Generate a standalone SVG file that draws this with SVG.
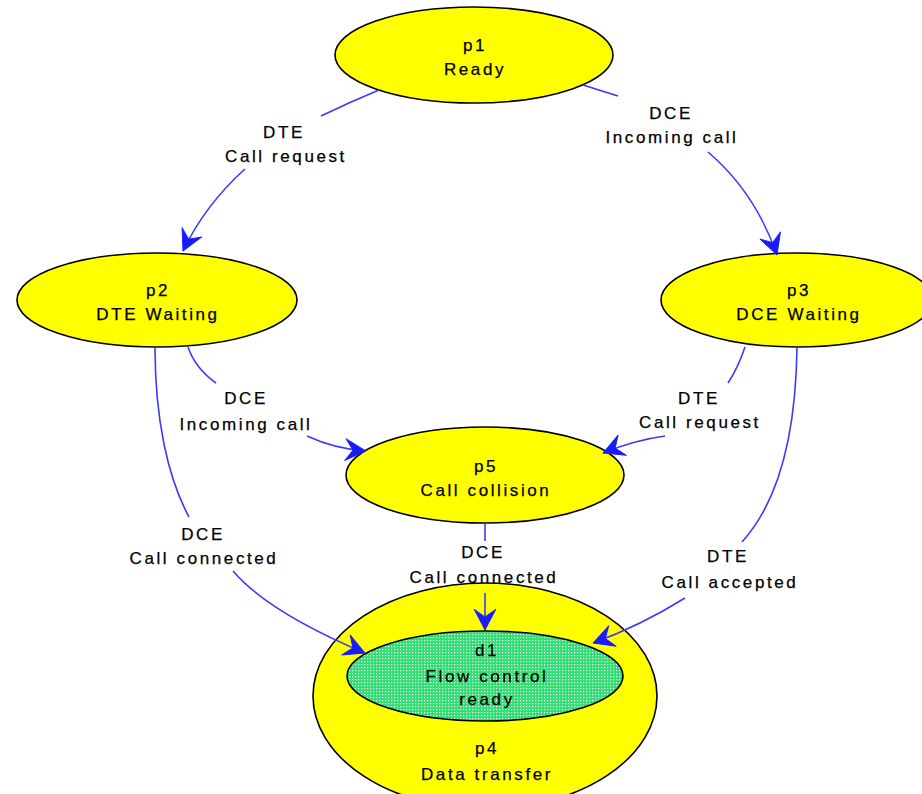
<svg xmlns="http://www.w3.org/2000/svg" width="922" height="794" viewBox="0 0 922 794">
  <style>
    .state { fill: #ffff00; stroke: #000000; stroke-width: 1.6; }
    .sub { fill: url(#dots); stroke: #000000; stroke-width: 1.6; }
    text { font-family: "Liberation Sans", Arial, sans-serif; font-size: 17px; letter-spacing: 2.6px; fill: #000000; stroke: #000000; stroke-width: 0.25; text-anchor: middle; }
    .edge { fill: none; stroke: #3a3aff; stroke-width: 1.6; }
    .head { marker-end: url(#arrow); }
  </style>
  <defs>
    <pattern id="dots" width="3" height="3" patternUnits="userSpaceOnUse">
      <rect width="3" height="3" fill="#30de72"/>
      <rect x="1" y="1" width="1.2" height="1.2" fill="#ffffff"/>
    </pattern>
    <marker id="arrow" markerUnits="userSpaceOnUse" markerWidth="24" markerHeight="24" viewBox="-20 -11 22 22" refX="0" refY="0" orient="auto">
      <path d="M0,0 L-19,-10 L-12,0 L-19,10 Z" fill="#1a1aff" stroke="#1a1aff" stroke-width="0.8"/>
    </marker>
  </defs>

  <!-- composite state p4 with nested d1 -->
  <g id="p4">
    <ellipse class="state" cx="485" cy="696" rx="172" ry="113"/>
    <text x="487" y="754">p4</text>
    <text x="487" y="780">Data transfer</text>
  </g>
  <g id="d1">
    <ellipse class="sub" cx="485" cy="676" rx="138" ry="45"/>
    <text x="487" y="656">d1</text>
    <text x="487" y="682">Flow control</text>
    <text x="487" y="705">ready</text>
  </g>

  <g id="p1">
    <ellipse class="state" cx="474" cy="55" rx="139" ry="48"/>
    <text x="475" y="51">p1</text>
    <text x="475" y="75">Ready</text>
  </g>
  <g id="p2">
    <ellipse class="state" cx="157" cy="300" rx="140" ry="47"/>
    <text x="158" y="296">p2</text>
    <text x="158" y="320">DTE Waiting</text>
  </g>
  <g id="p3">
    <ellipse class="state" cx="797" cy="300" rx="136" ry="47"/>
    <text x="799" y="296">p3</text>
    <text x="799" y="320">DCE Waiting</text>
  </g>
  <g id="p5">
    <ellipse class="state" cx="485" cy="475" rx="139" ry="48"/>
    <text x="486" y="472">p5</text>
    <text x="486" y="496">Call collision</text>
  </g>

  <!-- transitions, each split around its label -->
  <g id="connectors">
    <path class="edge" d="M379,90 Q350,102 321,116"/>
    <path class="edge head" d="M245,169 Q205,205 183,251"/>
    <text x="284" y="138">DTE</text>
    <text x="286" y="162">Call request</text>

    <path class="edge" d="M583,85 L618,96"/>
    <path class="edge head" d="M708,152 Q755,192 777,255"/>
    <text x="671" y="119">DCE</text>
    <text x="672" y="143">Incoming call</text>

    <path class="edge" d="M188,347 Q195,368 216,383"/>
    <path class="edge head" d="M307,436 Q335,449 366,451"/>
    <text x="246" y="404">DCE</text>
    <text x="246" y="430">Incoming call</text>

    <path class="edge" d="M745,347 Q738,368 728,383"/>
    <path class="edge head" d="M665,436 Q635,440 603,453"/>
    <text x="699" y="404">DTE</text>
    <text x="700" y="428">Call request</text>

    <path class="edge" d="M155,347 C155,420 168,478 189,517"/>
    <path class="edge head" d="M233,571 Q268,612 365,653"/>
    <text x="203" y="540">DCE</text>
    <text x="204" y="564">Call connected</text>

    <path class="edge" d="M485,523 L485,541"/>
    <path class="edge head" d="M485,593 L485,630"/>
    <text x="483" y="558">DCE</text>
    <text x="484" y="583">Call connected</text>

    <path class="edge" d="M797,347 C796,430 780,500 742,542"/>
    <path class="edge head" d="M685,598 Q640,626 593,643"/>
    <text x="728" y="562">DTE</text>
    <text x="730" y="588">Call accepted</text>
  </g>
</svg>
